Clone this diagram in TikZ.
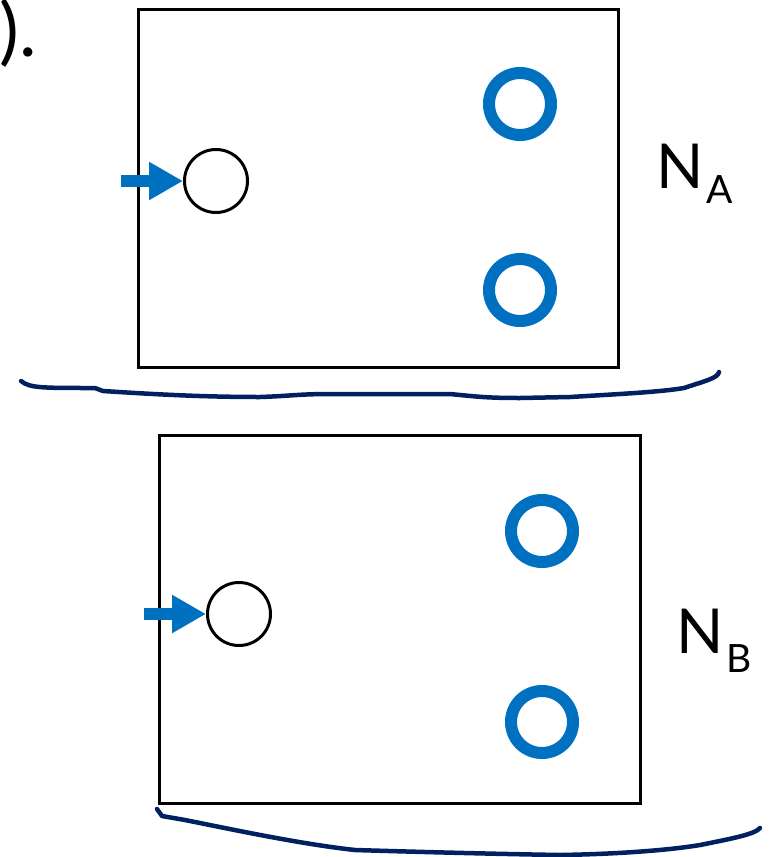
\documentclass[tikz,border=0pt]{standalone}
\usepackage{fontspec}
\setmainfont{Lato}
\usetikzlibrary{arrows.meta}
\definecolor{hiblue}{HTML}{0070C0}
\definecolor{navy}{HTML}{002060}
\tikzset{
  frame/.style={draw=black,line width=3pt},
  bluering/.style={circle,draw=hiblue,line width=12pt,minimum size=62pt,inner sep=0pt},
  blackring/.style={circle,draw=black,line width=3pt,minimum size=63pt,inner sep=0pt},
  inarrow/.style={draw=hiblue,line width=12pt,-{Triangle[length=34pt,width=36pt]}},
  brace/.style={draw=navy,line width=4.5pt,line cap=round,line join=round},
  bigtxt/.style={inner sep=0pt,anchor=base west,font=\fontsize{62}{62}\selectfont},
  subtxt/.style={inner sep=0pt,anchor=base west,font=\fontsize{39}{39}\selectfont}
}
\begin{document}
\begin{tikzpicture}[x=1pt,y=-1pt]
\useasboundingbox (0,0) rectangle (772,857);
% stray text at top left
\node[inner sep=0pt,anchor=base east,font=\fontsize{74}{74}\selectfont] (paren) at (37,56) {).};
% top box
\node[frame,minimum width=480pt,minimum height=358pt,inner sep=0pt,anchor=north west] (boxA) at (137,8) {};
\node[bluering] (a1) at (520,104) {};
\node[bluering] (a2) at (520,290) {};
\node[blackring] (ca) at (216,181) {};
\coordinate (ta) at (121,181);
\draw[inarrow] (ta) -- (ca.west);
\node[bigtxt] (na) at (656,188) {N};
\node[subtxt] (sa) at (706,203) {A};
% top brace
\coordinate (bA1) at (21,381);
\coordinate (bA2) at (719,372);
\draw[brace] (bA1) .. controls (30,388) and (40,388) .. (95,388)
  -- (103,391) .. controls (150,394) and (200,397) .. (260,397)
  .. controls (290,396) and (300,394) .. (330,394) -- (450,394)
  .. controls (480,397) and (490,398) .. (520,398) -- (570,397)
  .. controls (620,394) and (660,392) .. (684,388)
  .. controls (705,381) and (718,378) .. (bA2);
% bottom box
\node[frame,minimum width=481pt,minimum height=368pt,inner sep=0pt,anchor=north west] (boxB) at (158,434) {};
\node[bluering] (b1) at (542,531) {};
\node[bluering] (b2) at (542,722) {};
\node[blackring] (cb) at (239,614) {};
\coordinate (tb) at (144,614);
\draw[inarrow] (tb) -- (cb.west);
\node[bigtxt] (nb) at (676,653) {N};
\node[subtxt] (sb) at (726,672) {B};
% bottom brace
\coordinate (bB1) at (157,809);
\coordinate (bB2) at (760,828);
\draw[brace] (bB1) -- (162,816) -- (185,820) .. controls (230,829) and (300,844) .. (355,850)
  .. controls (420,852) and (500,854) .. (560,855)
  .. controls (620,854) and (670,850) .. (700,845)
  .. controls (735,838) and (755,834) .. (bB2);
\end{tikzpicture}
\end{document}
